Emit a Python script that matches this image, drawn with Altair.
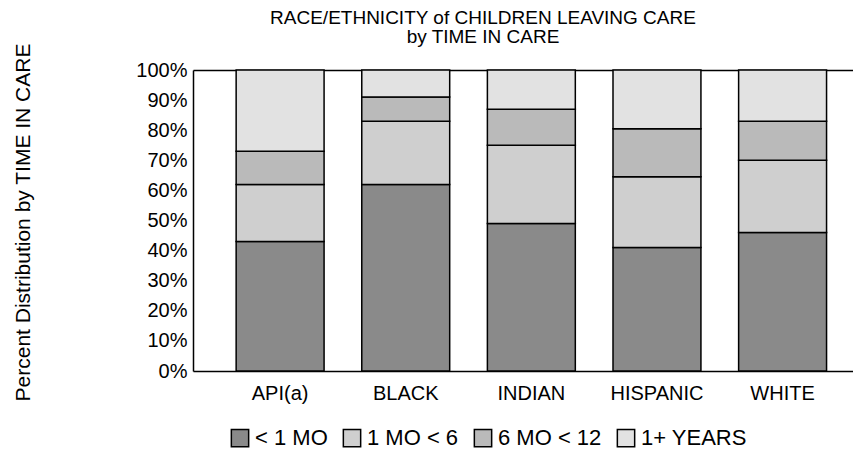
import altair as alt
import pandas as pd

categories = ["API(a)", "BLACK", "INDIAN", "HISPANIC", "WHITE"]
groups = ["< 1 MO", "1 MO < 6", "6 MO < 12", "1+ YEARS"]
lt_1mo = [43, 62, 49, 41, 46]
mo1_6 = [19, 21, 26, 23.5, 24]
mo6_12 = [11, 8, 12, 16, 13]
yr1_plus = [27, 9, 13, 19.5, 17]
y_ticks = [0, 10, 20, 30, 40, 50, 60, 70, 80, 90, 100]
fills = ["#8a8a8a", "#cfcfcf", "#bababa", "#e2e2e2"]

rows = []
for gi, (g, vals) in enumerate(zip(groups, [lt_1mo, mo1_6, mo6_12, yr1_plus])):
    for c, v in zip(categories, vals):
        rows.append({"race": c, "time": g, "order": gi, "pct": v})
df = pd.DataFrame(rows)

FONT = "Liberation Sans"

x_bottom = alt.X(
    "race:N",
    sort=categories,
    scale=alt.Scale(paddingInner=0.30, paddingOuter=0.277, align=0.62),
    axis=alt.Axis(
        title=None, labelAngle=0, labelFontSize=20, labelColor="black",
        labelFont=FONT, labelPadding=12, ticks=False, domainColor="black",
        domainWidth=1.5,
    ),
)

y_enc = alt.Y(
    "pct:Q",
    stack="zero",
    scale=alt.Scale(domain=[0, 100], nice=False),
    axis=alt.Axis(
        values=y_ticks, labelExpr="datum.value + '%'", grid=False, ticks=False,
        labelFontSize=20, labelFont=FONT, labelColor="black", labelPadding=6,
        domainColor="black", domainWidth=1.5,
        title="Percent Distribution by TIME IN CARE", titleFont=FONT,
        titleFontSize=21, titleFontWeight="normal", titleColor="black",
        titleAngle=-90, titleX=-164, titleY=152, titleAlign="center",
        titleBaseline="alphabetic",
    ),
)

bars = alt.Chart(df).mark_bar(stroke="black", strokeWidth=1.5).encode(
    x=x_bottom,
    y=y_enc,
    order=alt.Order("order:Q"),
    fill=alt.Fill(
        "time:N",
        sort=groups,
        scale=alt.Scale(domain=groups, range=fills),
        legend=alt.Legend(
            title=None, orient="none", legendX=36, legendY=357,
            direction="horizontal", columns=4, symbolType="square",
            symbolSize=300, symbolStrokeColor="black", symbolStrokeWidth=1.5,
            labelFontSize=22, labelFont=FONT, labelColor="black",
            labelOffset=4, columnPadding=12,
        ),
    ),
)

top_line = alt.Chart(df).mark_bar(opacity=0).encode(
    x=alt.X(
        "race:N", sort=categories,
        axis=alt.Axis(orient="top", labels=False, ticks=False, title=None,
                      domainColor="black", domainWidth=1.5),
    ),
    y=alt.Y("pct:Q", stack="zero", axis=None),
    order=alt.Order("order:Q"),
)

chart = (
    alt.layer(bars, top_line)
    .resolve_axis(x="independent", y="independent")
    .properties(
        width=660, height=301,
        autosize=alt.AutoSizeParams(type="none"),
        padding={"left": 185, "top": 62, "right": 0, "bottom": 81},
        title=alt.TitleParams(
            ["RACE/ETHNICITY of CHILDREN LEAVING CARE", "by TIME IN CARE"],
            font=FONT, fontSize=19, fontWeight="normal", color="black",
            lineHeight=19, anchor="middle", dx=-40, dy=12, offset=8,
        ),
    )
    .configure_view(stroke=None)
)

chart.save("out.html", embed_options={"renderer": "svg", "actions": False})
